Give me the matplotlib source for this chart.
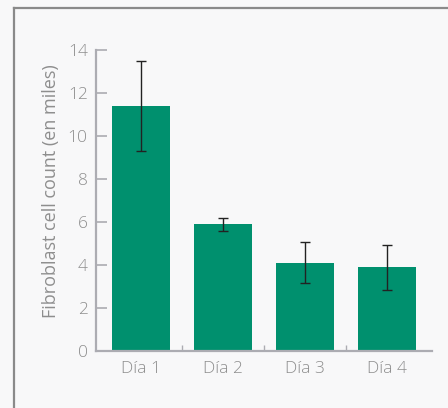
import matplotlib
matplotlib.use('Agg')
import matplotlib.pyplot as plt
from matplotlib.lines import Line2D

# data
days = ['Día 1', 'Día 2', 'Día 3', 'Día 4']
counts = [11.4, 5.9, 4.1, 3.9]
errors = [2.1, 0.3, 0.95, 1.05]
y_ticks = [0, 2, 4, 6, 8, 10, 12, 14]

plt.rcParams['font.family'] = ['Open Sans', 'DejaVu Sans']
plt.rcParams['font.weight'] = 'light'

text_gray = '#8e8e8e'
axis_gray = '#acacb2'
bar_green = '#00906e'
bg = '#f8f8f9'

fig = plt.figure(figsize=(4.48, 4.08), dpi=100, facecolor=bg)

# frame lines on the left and top of the panel
fig.add_artist(Line2D([13.5/448, 13.5/448], [0, 1 - 8/408], transform=fig.transFigure,
                      color='#8a8a8a', lw=1.6))
fig.add_artist(Line2D([13.5/448, 1], [1 - 8/408, 1 - 8/408], transform=fig.transFigure,
                      color='#8a8a8a', lw=1.6))

ax = fig.add_axes([96/448, 57/408, 336/448, 301/408])
ax.set_facecolor('none')

x = range(len(days))
ax.bar(x, counts, width=0.7, color=bar_green, zorder=2)
ax.errorbar(x, counts, yerr=errors, fmt='none', ecolor='#222222', elinewidth=1.0,
            capsize=3.8, capthick=1.0, zorder=3)

ax.set_xlim(-0.55, 3.55)
ax.set_ylim(0, 14)
ax.set_yticks(y_ticks)
ax.set_xticks(list(x))
ax.set_xticklabels(days)
ax.set_xticks([0.5, 1.5, 2.5], minor=True)

for side in ['top', 'right']:
    ax.spines[side].set_visible(False)
for side in ['left', 'bottom']:
    ax.spines[side].set_color(axis_gray)
    ax.spines[side].set_linewidth(1.6)

ax.tick_params(axis='y', direction='in', length=8, width=1.2, color=axis_gray,
               labelcolor=text_gray, labelsize=12.5, pad=6)
ax.tick_params(axis='x', which='major', length=0, labelcolor=text_gray,
               labelsize=12.5, pad=7)
ax.tick_params(axis='x', which='minor', direction='in', length=4.5, width=1.0,
               color=axis_gray)

ax.set_ylabel('Fibroblast cell count (en miles)', color=text_gray, fontsize=13)
ax.yaxis.set_label_coords(-0.108, 0.53)

fig.savefig('out.png', dpi=100, facecolor=bg)
